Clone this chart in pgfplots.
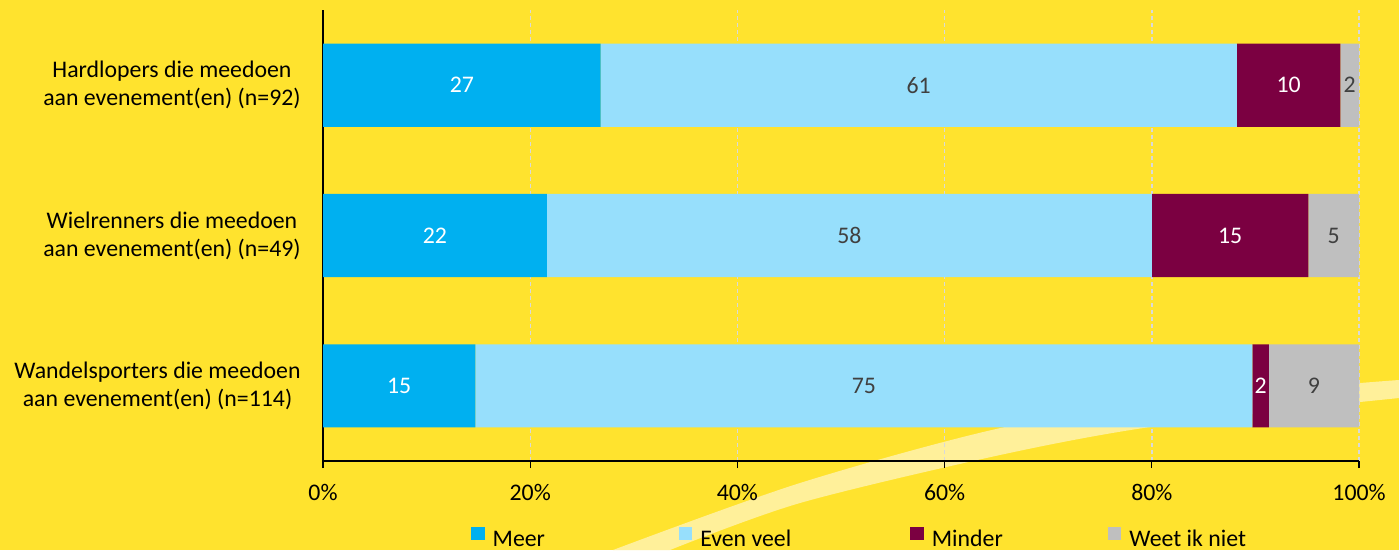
\documentclass[border=0pt]{standalone}
\usepackage{pgfplots}
\pgfplotsset{compat=1.18}
\usepackage{pgfplotstable}
\usepackage{fontspec}
\setmainfont{Carlito}
\definecolor{bgyellow}{HTML}{FFE32E}
\definecolor{stripe}{HTML}{FFF09A}
\definecolor{meer}{HTML}{00B0F0}
\definecolor{even}{HTML}{97DFFC}
\definecolor{minder}{HTML}{7B0041}
\definecolor{weet}{HTML}{BFBFBF}
\definecolor{lbl}{HTML}{404040}
\definecolor{gridc}{HTML}{D9D9D9}

\pgfplotstableread{
y meer even minder weet
0 14.7 75.0 1.6 8.7
1 21.6 58.4 15.1 4.9
2 26.8 61.4 10.0 1.8
}\datatable

\begin{document}
\fontsize{11.9bp}{14bp}\selectfont
\begin{tikzpicture}[font=\fontsize{11.9bp}{14bp}\selectfont]
\begin{scope}[x=0.5bp,y=-0.5bp]
\fill[bgyellow] (0,0) rectangle (1399,550);
\useasboundingbox (0,0) rectangle (1399,550);
\fill[stripe] plot[smooth] coordinates {(613,550) (800,483) (1005,427) (1200,396) (1360,383) (1399,380)}
  -- (1399,398) -- plot[smooth] coordinates {(1360,402) (1150,427) (1000,455) (800,503) (670,550)} -- cycle;
\end{scope}

\begin{axis}[
  at={(161.5bp,-230.5bp)}, anchor=south west,
  width=518bp, height=225.5bp, scale only axis,
  xbar stacked, bar width=0.553,
  xmin=0, xmax=100, ymin=-0.5, ymax=2.5,
  axis x line=bottom, axis y line=left,
  axis line style={black, line width=0.6bp, -},
  xtick={0,20,...,100},
  xticklabel={\pgfmathprintnumber{\tick}\%},
  /pgf/number format/assume math mode=true,
  tick align=outside,
  major tick length=3.5bp,
  xtick style={black, line width=0.6bp},
  ytick={0,1,2},
  yticklabels={{Wandelsporters die meedoen\\aan evenement(en) (n=114)},{Wielrenners die meedoen\\aan evenement(en) (n=49)},{Hardlopers die meedoen\\aan evenement(en) (n=92)}},
  ytick style={draw=none},
  yticklabel style={align=center, inner sep=0pt, xshift=-7.5bp},
  xticklabel style={inner sep=0pt, yshift=-8bp},
  xmajorgrids, grid style={gridc, dash pattern=on 2bp off 1.5bp, line width=0.7bp},
  legend columns=4,
  legend style={at={(axis description cs:0.1429,-0.172)}, anchor=west, draw=none, fill=none,
    inner sep=0pt, outer sep=0pt,
    /tikz/every odd column/.append style={column sep=4bp},
    /tikz/every even column/.append style={column sep=0bp},
    nodes={inner sep=0pt}},
  legend cell align=left,
  legend image code/.code={\fill[#1] (0bp,0bp) rectangle (6.8bp,6.8bp);},
]
\addplot[fill=meer, draw=none] table[x=meer, y=y] {\datatable};
\addlegendentry{\makebox[93bp][l]{Meer}}
\addplot[fill=even, draw=none] table[x=even, y=y] {\datatable};
\addlegendentry{\makebox[105bp][l]{Even veel}}
\addplot[fill=minder, draw=none] table[x=minder, y=y] {\datatable};
\addlegendentry{\makebox[88bp][l]{Minder}}
\addplot[fill=weet, draw=none] table[x=weet, y=y] {\datatable};
\addlegendentry{Weet ik niet}
\end{axis}

\begin{axis}[
  at={(161.5bp,-230.5bp)}, anchor=south west,
  width=518bp, height=225.5bp, scale only axis,
  xmin=0, xmax=100, ymin=-0.5, ymax=2.5,
  hide axis, clip=false,
  point meta=explicit symbolic,
  nodes near coords,
  every node near coord/.append style={anchor=center, inner sep=0pt},
]
\addplot[draw=none, mark=none, nodes near coords, every node near coord/.append style={text=white}]
  coordinates {(7.35,0) [15] (10.8,1) [22] (13.4,2) [27]};
\addplot[draw=none, mark=none, nodes near coords, every node near coord/.append style={text=lbl}]
  coordinates {(52.2,0) [75] (50.8,1) [58] (57.5,2) [61]};
\addplot[draw=none, mark=none, nodes near coords, every node near coord/.append style={text=white}]
  coordinates {(90.5,0) [2] (87.55,1) [15] (93.2,2) [10]};
\addplot[draw=none, mark=none, nodes near coords, every node near coord/.append style={text=lbl}]
  coordinates {(95.65,0) [9] (97.55,1) [5] (99.1,2) [2]};
\end{axis}
\end{tikzpicture}
\end{document}
